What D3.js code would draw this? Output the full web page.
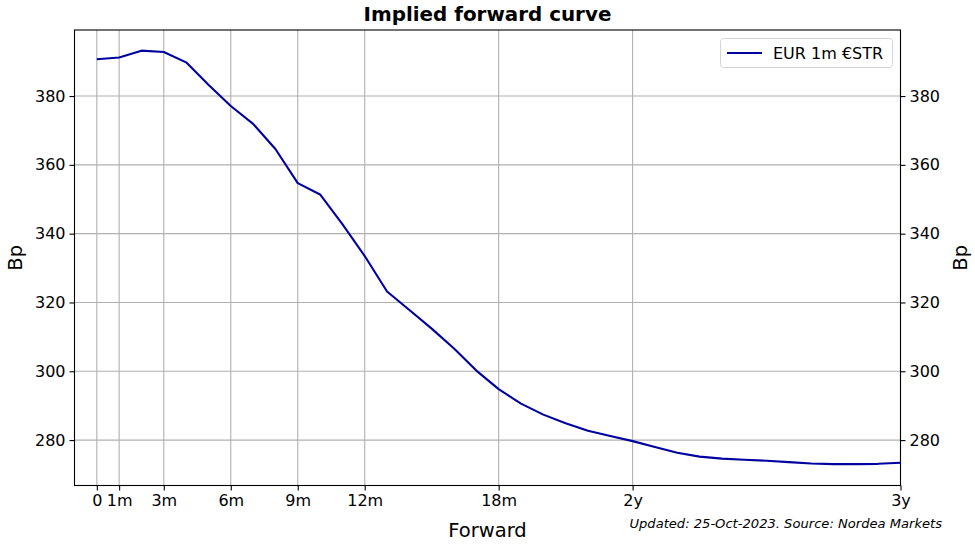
<!DOCTYPE html>
<html>
<head>
<meta charset="utf-8">
<script src="https://cdn.jsdelivr.net/npm/d3@7"></script>
<style>
  html, body { margin: 0; padding: 0; background: #fff; }
  svg { display: block; font-family: "DejaVu Sans", sans-serif; }
</style>
</head>
<body>
<svg id="chart" width="975" height="546"></svg>
<script>
// ---- data ----
const months = [0,1,2,3,4,5,6,7,8,9,10,11,12,13,14,15,16,17,18,19,20,21,22,23,24,25,26,27,28,29,30,31,32,33,34,35,36];
const eurEstr = [390.7,391.2,393.2,392.8,389.8,383.3,377.1,371.9,364.6,354.7,351.4,342.8,333.5,323.2,317.8,312.4,306.6,300.2,294.8,290.6,287.4,284.9,282.7,281.2,279.7,278.0,276.3,275.2,274.6,274.3,274.0,273.6,273.2,273.0,273.0,273.1,273.4];
const xTickValues = [0,1,3,6,9,12,18,24,36];
const xTickLabels = ["0","1m","3m","6m","9m","12m","18m","2y","3y"];
const yTickValues = [280,300,320,340,360,380];
const seriesName = "EUR 1m €STR";
const titleText = "Implied forward curve";
const xLabelText = "Forward";
const yLabelText = "Bp";
const footerText = "Updated: 25-Oct-2023. Source: Nordea Markets";

// ---- layout ----
const svg = d3.select("#chart");
const L = 74.5, R = 900.5, T = 30, B = 485.5;
const x = d3.scaleLinear().domain([-1, 36]).range([L, R]);
const y = d3.scaleLinear().domain([266.8, 399.2]).range([B, T]);
const lineColor = "#0000a0";
const gridColor = "#b0b0b0";

// grid
const g = svg.append("g");
g.selectAll(".vg").data(xTickValues).join("line")
  .attr("x1", d => x(d)).attr("x2", d => x(d)).attr("y1", T).attr("y2", B)
  .attr("stroke", gridColor).attr("stroke-width", 1.1);
g.selectAll(".hg").data(yTickValues).join("line")
  .attr("y1", d => y(d)).attr("y2", d => y(d)).attr("x1", L).attr("x2", R)
  .attr("stroke", gridColor).attr("stroke-width", 1.1);

// line
const line = d3.line().x((d, i) => x(months[i])).y(d => y(d));
svg.append("path").datum(eurEstr)
  .attr("d", line).attr("fill", "none")
  .attr("stroke", lineColor).attr("stroke-width", 2.1)
  .attr("stroke-linejoin", "round");

// axes
const fontSize = 16;
const xAxis = svg.append("g").attr("transform", `translate(0,${B})`)
  .call(d3.axisBottom(x).tickValues(xTickValues).tickFormat((d, i) => xTickLabels[i]).tickSize(5).tickPadding(4));
const yAxisL = svg.append("g").attr("transform", `translate(${L},0)`)
  .call(d3.axisLeft(y).tickValues(yTickValues).tickSize(5).tickPadding(4));
const yAxisR = svg.append("g").attr("transform", `translate(${R},0)`)
  .call(d3.axisRight(y).tickValues(yTickValues).tickSize(5).tickPadding(4));
[xAxis, yAxisL, yAxisR].forEach(a => {
  a.select(".domain").remove();
  a.selectAll(".tick line").attr("stroke", "#000").attr("stroke-width", 1.1);
  a.selectAll(".tick text").attr("font-size", fontSize).attr("font-family", "DejaVu Sans").attr("fill", "#000");
});

// frame
svg.append("rect").attr("x", L).attr("y", T).attr("width", R - L).attr("height", B - T)
  .attr("fill", "none").attr("stroke", "#000").attr("stroke-width", 1.1);

// title
svg.append("text").attr("x", (L + R) / 2).attr("y", 21)
  .attr("text-anchor", "middle").attr("font-size", 19.9).attr("font-weight", "bold")
  .text(titleText);

// axis labels
svg.append("text").attr("x", (L + R) / 2).attr("y", 537)
  .attr("text-anchor", "middle").attr("font-size", 19.5).text(xLabelText);
svg.append("text").attr("transform", `translate(22,${(T + B) / 2}) rotate(-90)`)
  .attr("text-anchor", "middle").attr("font-size", 19.5).text(yLabelText);
svg.append("text").attr("transform", `translate(967,${(T + B) / 2}) rotate(-90)`)
  .attr("text-anchor", "middle").attr("font-size", 19.5).text(yLabelText);

// footer
svg.append("text").attr("x", 942).attr("y", 527.5)
  .attr("text-anchor", "end").attr("font-size", 13.1).attr("font-style", "italic")
  .text(footerText);

// legend
const lg = svg.append("g");
lg.append("rect").attr("x", 720.5).attr("y", 38.5).attr("width", 172).attr("height", 29)
  .attr("rx", 3).attr("fill", "#fff").attr("fill-opacity", 0.8)
  .attr("stroke", "#d5d5d5").attr("stroke-width", 1);
lg.append("line").attr("x1", 727).attr("x2", 762).attr("y1", 53).attr("y2", 53)
  .attr("stroke", lineColor).attr("stroke-width", 2.1);
lg.append("text").attr("x", 773).attr("y", 59).attr("font-size", 16).text(seriesName);
</script>
</body>
</html>
